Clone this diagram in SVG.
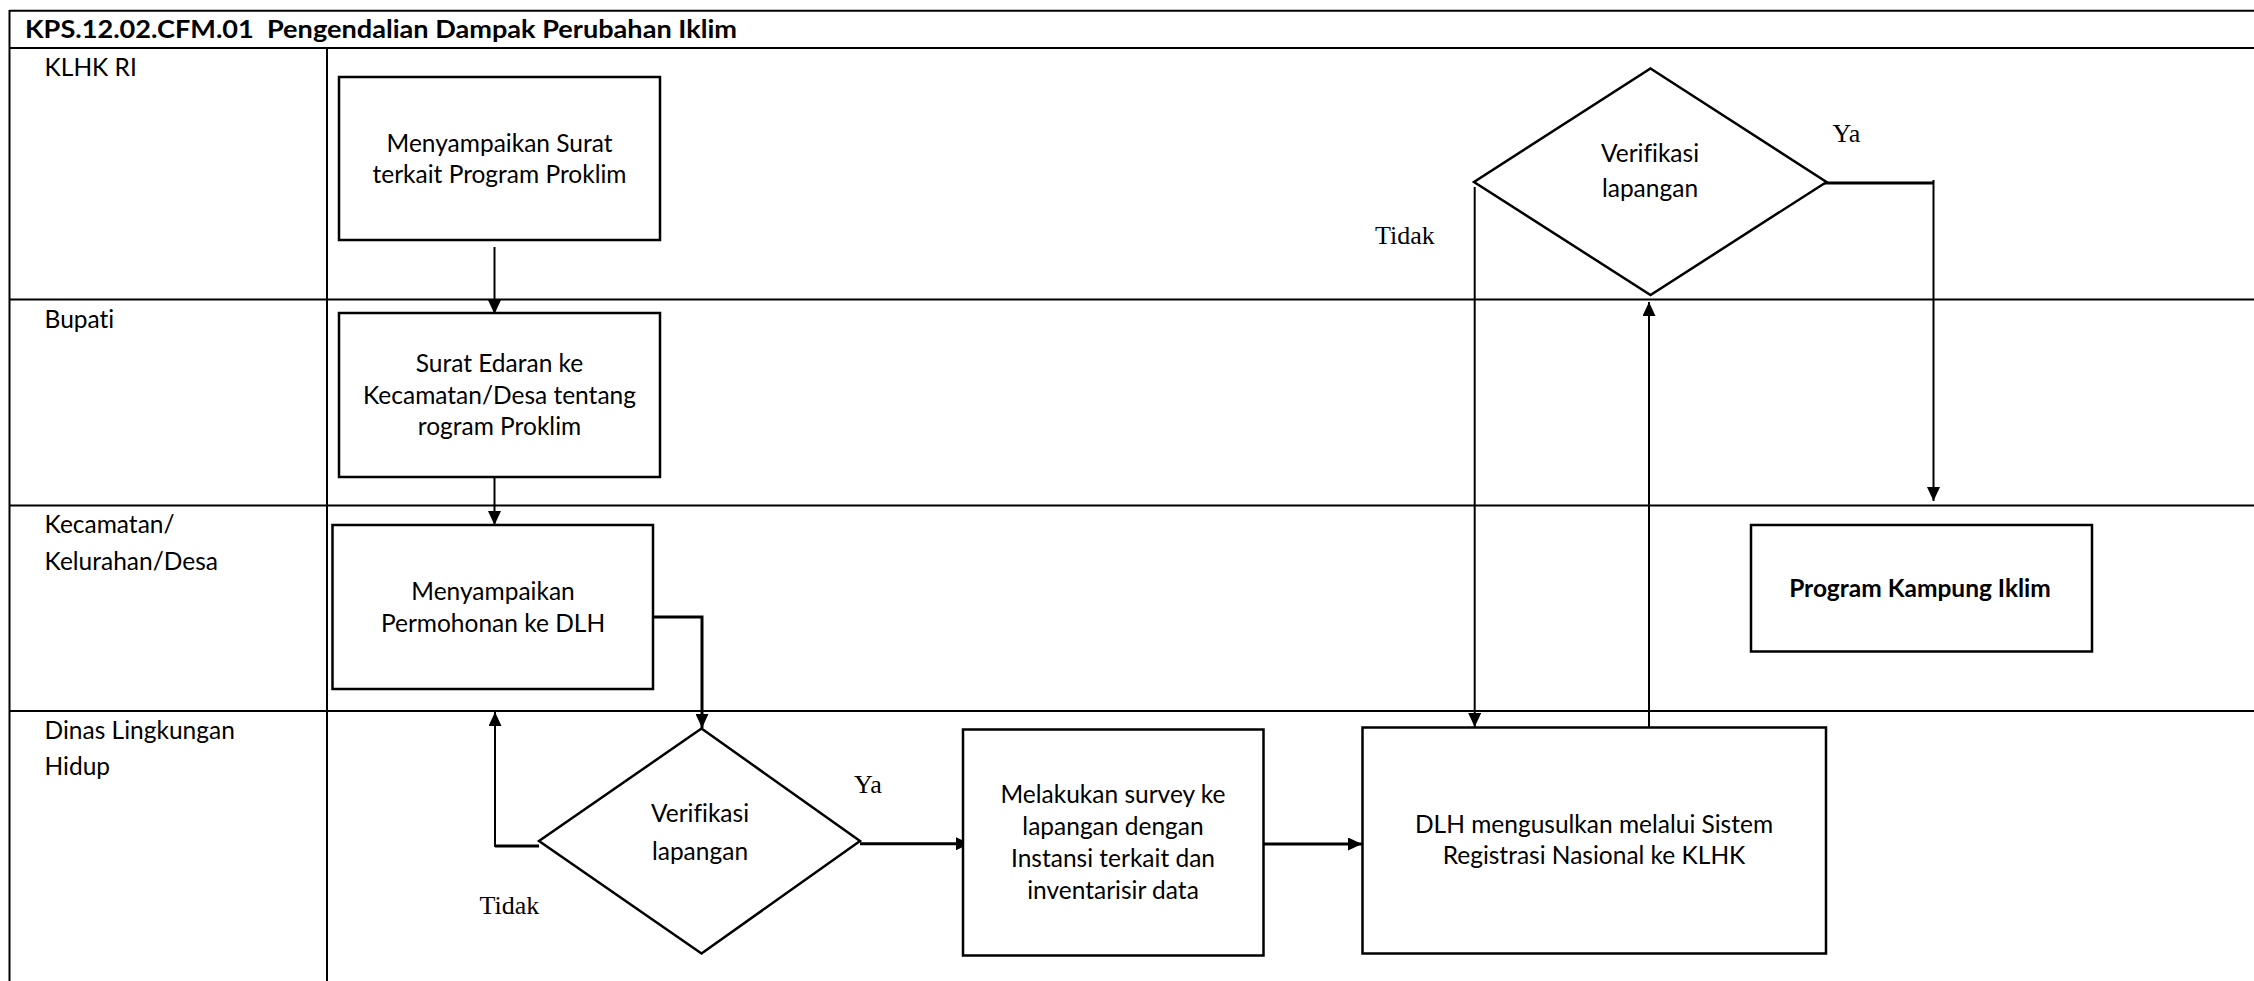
<svg xmlns="http://www.w3.org/2000/svg" width="2254" height="981" viewBox="0 0 2254 981">
<defs>
<marker id="ah" viewBox="0 0 14 13" refX="14" refY="6.5" markerWidth="14" markerHeight="13" markerUnits="userSpaceOnUse" orient="auto">
<path d="M0,0 L14,6.5 L0,13 z" fill="#000"/>
</marker>
<style>
.lane{stroke:#000;stroke-width:2;fill:none}
.box{fill:#fff;stroke:#000;stroke-width:2.5}
.t{font-family:Lato,"Open Sans","Liberation Sans",sans-serif;font-size:24.5px;fill:#000;text-anchor:middle;font-variant-ligatures:none}
.lbl{font-family:Lato,"Open Sans","Liberation Sans",sans-serif;font-size:24.5px;fill:#000;font-variant-ligatures:none}
.ttl{font-family:Lato,"Open Sans","Liberation Sans",sans-serif;font-size:25.5px;font-weight:bold;fill:#000;white-space:pre}
.b{font-weight:bold}
.yn{font-family:"Liberation Serif","Times New Roman",serif;font-size:26px;fill:#000}
.c{stroke:#000;stroke-width:2;fill:none}
.ck{stroke:#000;stroke-width:3;fill:none}
</style>
</defs>
<rect width="2254" height="981" fill="#fff"/>
<g id="frame">
<line class="lane" x1="9.5" y1="10.7" x2="2254" y2="10.7"/>
<line class="lane" x1="9.5" y1="48" x2="2254" y2="48"/>
<line class="lane" x1="9.5" y1="299.5" x2="2254" y2="299.5"/>
<line class="lane" x1="9.5" y1="505.5" x2="2254" y2="505.5"/>
<line class="lane" x1="9.5" y1="711" x2="2254" y2="711"/>
<line class="lane" x1="9.5" y1="10" x2="9.5" y2="981"/>
<line class="lane" x1="327" y1="48" x2="327" y2="981"/>
<text class="ttl" x="25" y="38" textLength="712" lengthAdjust="spacingAndGlyphs" xml:space="preserve">KPS.12.02.CFM.01  Pengendalian Dampak Perubahan Iklim</text>
<text class="lbl" x="44.6" y="76">KLHK RI</text>
<text class="lbl" x="44.6" y="328">Bupati</text>
<text class="lbl" x="44.6" y="533">Kecamatan/</text>
<text class="lbl" x="44.6" y="570">Kelurahan/Desa</text>
<text class="lbl" x="44.6" y="739">Dinas Lingkungan</text>
<text class="lbl" x="44.6" y="775">Hidup</text>
</g>
<g id="connectors">
<line class="c" x1="494.5" y1="247" x2="494.5" y2="314" marker-end="url(#ah)"/>
<line class="c" x1="494.5" y1="477" x2="494.5" y2="525" marker-end="url(#ah)"/>
<polyline class="ck" points="653,617 702,617 702,728" marker-end="url(#ah)"/>
<line class="ck" x1="539" y1="846" x2="495" y2="846"/>
<line class="c" x1="495" y1="847" x2="495" y2="712" marker-end="url(#ah)"/>
<line class="ck" x1="860" y1="843.7" x2="970" y2="843.7" marker-end="url(#ah)"/>
<line class="ck" x1="1263.5" y1="844" x2="1362" y2="844" marker-end="url(#ah)"/>
<line class="c" x1="1474.7" y1="187" x2="1474.7" y2="727" marker-end="url(#ah)"/>
<line class="c" x1="1649" y1="729" x2="1649" y2="302" marker-end="url(#ah)"/>
<line class="ck" x1="1809" y1="183" x2="1933.5" y2="183"/>
<line class="c" x1="1933.5" y1="180" x2="1933.5" y2="501" marker-end="url(#ah)"/>
<text class="yn" x="854" y="793">Ya</text>
<text class="yn" x="479.5" y="914">Tidak</text>
<text class="yn" x="1832.6" y="142">Ya</text>
<text class="yn" x="1375" y="244">Tidak</text>
</g>
<g id="n1">
<rect class="box" x="339" y="77" width="321" height="163"/>
<text class="t" x="499.5" y="152">Menyampaikan Surat</text>
<text class="t" x="499.5" y="183">terkait Program Proklim</text>
</g>
<g id="n2">
<rect class="box" x="339" y="313" width="321" height="164"/>
<text class="t" x="499.5" y="372">Surat Edaran ke</text>
<text class="t" x="499.5" y="403.5">Kecamatan/Desa tentang</text>
<text class="t" x="499.5" y="435">rogram Proklim</text>
</g>
<g id="n3">
<rect class="box" x="332.5" y="525" width="320.5" height="164"/>
<text class="t" x="493" y="600">Menyampaikan</text>
<text class="t" x="493" y="632">Permohonan ke DLH</text>
</g>
<g id="d1">
<polygon class="box" stroke-width="2" points="701.5,728.5 860,841 701.5,953.5 539,841"/>
<text class="t" x="700" y="822">Verifikasi</text>
<text class="t" x="700" y="860">lapangan</text>
</g>
<g id="n4">
<rect class="box" x="963" y="729.5" width="300.5" height="226"/>
<text class="t" x="1113" y="803">Melakukan survey ke</text>
<text class="t" x="1113" y="835">lapangan dengan</text>
<text class="t" x="1113" y="867">Instansi terkait dan</text>
<text class="t" x="1113" y="899">inventarisir data</text>
</g>
<g id="n5">
<rect class="box" x="1362.5" y="727.5" width="463.5" height="226"/>
<text class="t" x="1594" y="833">DLH mengusulkan melalui Sistem</text>
<text class="t" x="1594" y="863.5">Registrasi Nasional ke KLHK</text>
</g>
<g id="d2">
<polygon class="box" stroke-width="2" points="1650.5,68.5 1826.5,182 1650.5,295 1474,182"/>
<text class="t" x="1650" y="161.5">Verifikasi</text>
<text class="t" x="1650" y="197">lapangan</text>
</g>
<g id="n6">
<rect class="box" x="1751" y="525" width="341" height="126.5"/>
<text class="t b" x="1920" y="597">Program Kampung Iklim</text>
</g>
</svg>
